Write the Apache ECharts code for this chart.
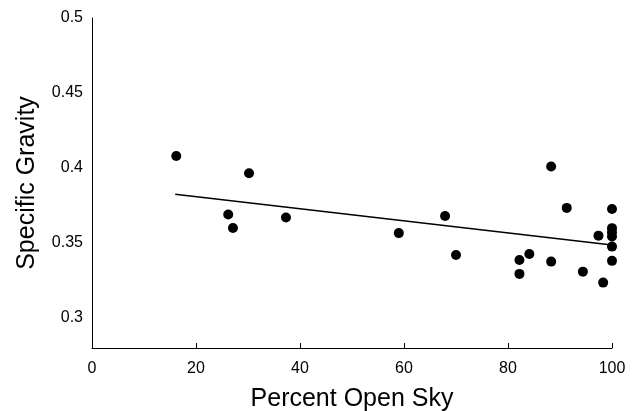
<!DOCTYPE html>
<html>
<head>
<meta charset="utf-8">
<script src="https://cdn.jsdelivr.net/npm/echarts@6/dist/echarts.min.js"></script>
<style>
    html, body { margin: 0; padding: 0; background: #fff; }
    #main { width: 638px; height: 411px; }
</style>
</head>
<body>
<div id="main"></div>
<script>
// percent open sky (x) and specific gravity (y)
var openSky = [16.2, 30.2, 26.2, 27.1, 37.3, 59.0, 67.9, 70.0, 88.3, 91.3,
    100, 97.4, 100, 100, 100, 100, 100, 82.2, 82.2, 84.1, 88.3, 94.4, 98.3];
var gravity = [0.408, 0.3965, 0.369, 0.360, 0.367, 0.3566, 0.368, 0.342, 0.401, 0.3734,
    0.3727, 0.3549, 0.3599, 0.3572, 0.3543, 0.3476, 0.3381, 0.3387, 0.3294, 0.3427, 0.3376, 0.3309, 0.3236];
// fitted line end points
var fitX = [16, 100];
var fitY = [0.3825, 0.3487];

var points = [];
for (var i = 0; i < openSky.length; i++) {
    points.push([openSky[i], gravity[i]]);
}
var fitLine = [];
for (var j = 0; j < fitX.length; j++) {
    fitLine.push([fitX[j], fitY[j]]);
}

var chart = echarts.init(document.getElementById('main'));
var font = 'Liberation Sans, Arial, sans-serif';

var option = {
    animation: false,
    grid: { left: 92, right: 26, top: 18, bottom: 63, outerBoundsMode: 'none', containLabel: false },
    xAxis: {
        type: 'value',
        min: 0,
        max: 100,
        interval: 20,
        name: 'Percent Open Sky',
        nameLocation: 'middle',
        nameGap: 39,
        nameTextStyle: { color: '#000', fontSize: 25, fontFamily: font },
        axisLine: { lineStyle: { color: '#000', width: 1 } },
        axisTick: { inside: true, length: 5, lineStyle: { color: '#000' } },
        axisLabel: { color: '#000', fontSize: 16, fontFamily: font, margin: 13 },
        splitLine: { show: false }
    },
    yAxis: {
        type: 'value',
        min: 0.28,
        max: 0.5,
        interval: 0.01,
        name: 'Specific Gravity',
        nameLocation: 'middle',
        nameGap: 52,
        nameTextStyle: { color: '#000', fontSize: 25, fontFamily: font },
        axisLine: { show: true, lineStyle: { color: '#000', width: 1 } },
        axisTick: { show: false },
        axisLabel: {
            color: '#000', fontSize: 16, fontFamily: font, margin: 9,
            formatter: function (v) {
                var k = v * 20;
                if (Math.abs(k - Math.round(k)) < 1e-6) {
                    return String(Math.round(k * 5) / 100);
                }
                return '';
            }
        },
        splitLine: { show: false }
    },
    series: [
        {
            type: 'scatter',
            data: points,
            symbolSize: 10,
            itemStyle: { color: '#000', opacity: 1 }
        },
        {
            type: 'line',
            data: fitLine,
            symbol: 'none',
            lineStyle: { color: '#000', width: 1.6 }
        }
    ]
};
chart.setOption(option);
</script>
</body>
</html>
